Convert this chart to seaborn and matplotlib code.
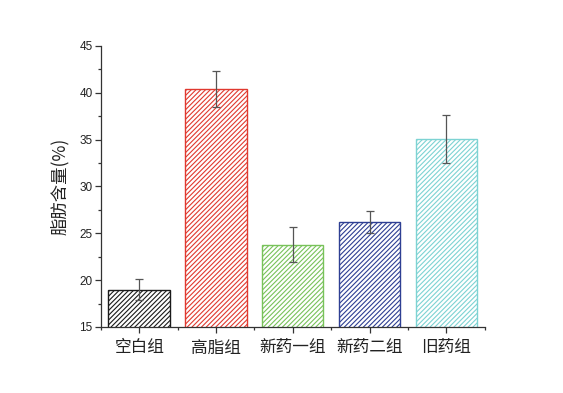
import numpy as np
import pandas as pd
import seaborn as sns
import matplotlib.pyplot as plt
from matplotlib.ticker import MultipleLocator

# ---------------------------------------------------------------
# Data
# ---------------------------------------------------------------
groups = ['空白组', '高脂组', '新药一组', '新药二组', '旧药组']
fat_mean = [19.0, 40.4, 23.8, 26.2, 35.1]
fat_err = [1.15, 1.9, 1.9, 1.2, 2.55]
colors = ['#1a1a1a', '#e0392f', '#78c25a', '#2e3f93', '#7dd3d3']

df = pd.DataFrame({'group': groups, 'fat': fat_mean})

sns.set_style('white')
plt.rcParams['font.family'] = ['Liberation Sans', 'Noto Sans CJK SC', 'DejaVu Sans']
plt.rcParams['hatch.linewidth'] = 0.8

fig = plt.figure(figsize=(5.63, 3.93), dpi=100)
ax = fig.add_axes([0.179, 0.168, 0.682, 0.715])

sns.barplot(data=df, x='group', y='fat', hue='group', palette=colors,
            legend=False, errorbar=None, width=0.8, ax=ax)

# hollow bars with diagonal hatch in the bar colour
for patch, c in zip(ax.patches, colors):
    patch.set_facecolor('white')
    patch.set_edgecolor(c)
    patch.set_hatch('///////')
    patch.set_linewidth(1.0)

ax.errorbar(np.arange(len(groups)), fat_mean, yerr=fat_err, fmt='none',
            ecolor='#555555', elinewidth=0.9, capsize=3, capthick=0.9)

ax.set_xlim(-0.5, len(groups) - 0.5)
ax.set_ylim(15, 45)
ax.yaxis.set_major_locator(MultipleLocator(5))
ax.yaxis.set_minor_locator(MultipleLocator(2.5))
ax.set_xticks(np.arange(len(groups)))
ax.set_xticks(np.arange(len(groups) + 1) - 0.5, minor=True)

for side in ['top', 'right']:
    ax.spines[side].set_visible(False)
for side in ['left', 'bottom']:
    ax.spines[side].set_color('#333333')
    ax.spines[side].set_linewidth(0.9)

ax.tick_params(axis='both', which='major', direction='out', length=4,
               width=0.9, color='#333333', left=True, bottom=True)
ax.tick_params(axis='both', which='minor', direction='out', length=2.5,
               width=0.9, color='#333333', left=True, bottom=True)
ax.tick_params(axis='y', labelsize=8.5, labelcolor='#222222', pad=2)
ax.tick_params(axis='x', labelsize=12, labelcolor='#222222', pad=5)
for lab in ax.get_xticklabels():
    lab.set_family(['Noto Sans CJK SC', 'DejaVu Sans'])

ax.set_xlabel('')
ax.set_ylabel('脂肪含量(%)', fontsize=12.5, family=['Noto Sans CJK SC', 'DejaVu Sans'],
              color='#222222', labelpad=7)

plt.savefig('out.png', dpi=100)
plt.close()
